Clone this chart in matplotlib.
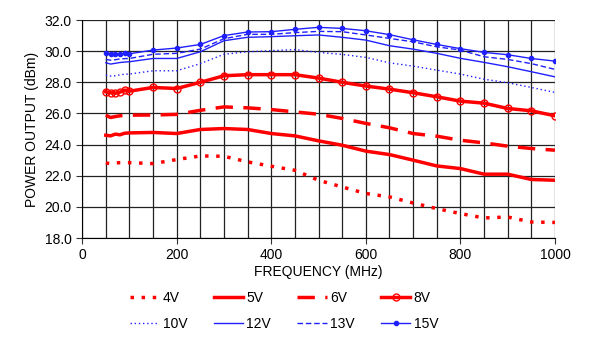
import matplotlib
matplotlib.use("Agg")
import matplotlib.pyplot as plt
import numpy as np

plt.rcParams['font.family'] = ['Liberation Sans', 'DejaVu Sans']

freq = [50, 60, 70, 80, 90, 100, 150, 200, 250, 300, 350, 400, 450, 500,
        550, 600, 650, 700, 750, 800, 850, 900, 950, 1000]

v4 = [22.82, 22.78, 22.82, 22.84, 22.84, 22.84, 22.78, 23.04, 23.27, 23.25,
      22.89, 22.61, 22.35, 21.71, 21.28, 20.86, 20.64, 20.25, 19.89, 19.57,
      19.29, 19.35, 19.03, 19.0]
v5 = [24.6, 24.56, 24.67, 24.63, 24.73, 24.75, 24.78, 24.71, 24.97, 25.03,
      24.97, 24.71, 24.56, 24.24, 23.96, 23.58, 23.36, 23.0, 22.63, 22.46,
      22.1, 22.1, 21.76, 21.71]
v6 = [25.89, 25.74, 25.8, 25.85, 25.88, 25.89, 25.9, 25.94, 26.2, 26.42,
      26.36, 26.25, 26.1, 25.95, 25.68, 25.36, 25.08, 24.71, 24.54, 24.28,
      24.11, 23.9, 23.75, 23.64]
v8 = [27.39, 27.33, 27.3, 27.37, 27.5, 27.43, 27.67, 27.6, 28.0, 28.42,
      28.49, 28.49, 28.49, 28.27, 28.0, 27.76, 27.56, 27.33, 27.07, 26.79,
      26.66, 26.32, 26.17, 25.85]
v10 = [28.46, 28.4, 28.42, 28.48, 28.52, 28.53, 28.74, 28.74, 29.2, 29.8,
       29.96, 30.03, 30.1, 29.92, 29.79, 29.6, 29.25, 29.04, 28.78, 28.53,
       28.2, 27.97, 27.67, 27.35]
v12 = [29.26, 29.17, 29.22, 29.27, 29.3, 29.32, 29.53, 29.53, 29.96, 30.67,
       30.89, 30.93, 30.99, 31.04, 30.89, 30.71, 30.35, 30.13, 29.86, 29.54,
       29.28, 29.0, 28.68, 28.35]
v13 = [29.47, 29.42, 29.45, 29.5, 29.52, 29.53, 29.8, 29.86, 30.13, 30.8,
       31.08, 31.08, 31.19, 31.27, 31.25, 31.04, 30.82, 30.6, 30.28, 30.07,
       29.64, 29.47, 29.2, 28.83]
v15 = [29.86, 29.79, 29.79, 29.8, 29.86, 29.83, 30.07, 30.2, 30.43, 31.0,
       31.23, 31.25, 31.4, 31.53, 31.46, 31.31, 31.06, 30.73, 30.43, 30.16,
       29.92, 29.77, 29.53, 29.36]

red = '#ff0000'
blue = '#2020ff'

fig = plt.figure(figsize=(5.91, 3.42), dpi=100)
ax = fig.add_axes([0.139, 0.304, 0.8, 0.6375])

h4, = ax.plot(freq, v4, color=red, lw=2.5, ls=(0, (1, 2.2)), label='4V')
h5, = ax.plot(freq, v5, color=red, lw=2.5, label='5V')
h6, = ax.plot(freq, v6, color=red, lw=2.5, ls=(0, (5, 3)), label='6V')
h8, = ax.plot(freq, v8, color=red, lw=2.5, marker='o', ms=5, mfc='none',
              mew=1, label='8V')
h10, = ax.plot(freq, v10, color=blue, lw=1, ls=(0, (1, 2)), label='10V')
h12, = ax.plot(freq, v12, color=blue, lw=1, label='12V')
h13, = ax.plot(freq, v13, color=blue, lw=1, ls=(0, (4, 2)), label='13V')
h15, = ax.plot(freq, v15, color=blue, lw=1, marker='o', ms=3, label='15V')

ax.set_xlim(0, 1000)
ax.set_ylim(18, 32)
ax.set_xticks(np.arange(0, 1001, 200))
ax.set_xticks(np.arange(50, 1000, 50), minor=True)
ax.set_yticks(np.arange(18, 32.1, 2))
ax.set_yticklabels(['%.1f' % v for v in np.arange(18, 32.1, 2)])
ax.tick_params(axis='both', labelsize=10, length=4, color='#333333')
ax.tick_params(axis='x', which='minor', length=0)
ax.grid(True, which='both', color='#222222', lw=0.9)
ax.set_axisbelow(True)
for s in ['top', 'right']:
    ax.spines[s].set_visible(False)

ax.set_xlabel('FREQUENCY (MHz)', fontsize=10, labelpad=2)
ax.set_ylabel('POWER OUTPUT (dBm)', fontsize=10, labelpad=4)

# legend is filled column-wise, so interleave rows
handles = [h4, h10, h5, h12, h6, h13, h8, h15]
fig.legend(handles, [h.get_label() for h in handles],
           loc='upper left', bbox_to_anchor=(0.22, 0.15),
           ncol=4, frameon=False, fontsize=10, handlelength=2.1,
           columnspacing=1.9, handletextpad=0.25, labelspacing=0.85,
           borderaxespad=0, borderpad=0)

fig.savefig('out.png', dpi=100)
